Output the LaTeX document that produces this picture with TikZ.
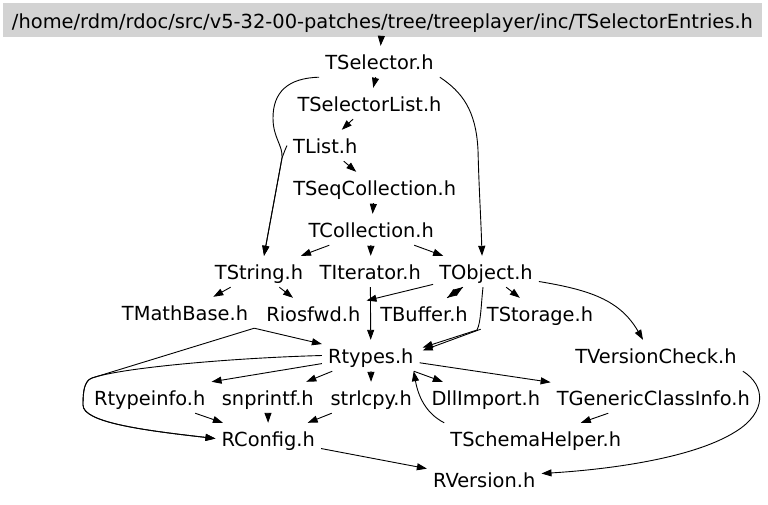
\documentclass[tikz,border=0pt]{standalone}
\usepackage{graphicx}
\usepackage{fontspec}
\setmainfont{DejaVu Sans}
\usetikzlibrary{arrows.meta}
\definecolor{rootgray}{HTML}{D3D3D3}
\begin{document}
\begin{tikzpicture}[x=1pt,y=-1pt,
  rootbox/.style={fill=rootgray,draw=none,minimum width=759pt,minimum height=34pt,inner sep=0pt,
    text height=20pt,text depth=4pt,font=\fontsize{19.4}{21}\selectfont},
  fnode/.style={anchor=base,inner xsep=6pt,inner ysep=4pt,text height=19pt,text depth=4pt,
    font=\fontsize{19.4}{21}\selectfont},
  edge/.style={draw=black,line width=0.9pt,-{Triangle[length=10pt,width=7pt]}}]
\useasboundingbox (0,0) rectangle (768,504);
\fill[white] (0,0) rectangle (768,504);

\node[rootbox] (root) at (382.5,20) {\resizebox{741pt}{\height}{/home/rdm/rdoc/src/v5-32-00-patches/tree/treeplayer/inc/TSelectorEntries.h}};

\node[fnode] (sel) at (379.5,69) {TSelector.h};
\node[fnode] (sellist) at (369.5,111) {TSelectorList.h};
\node[fnode] (tlist) at (325.3,153) {TList.h};
\node[fnode] (seq) at (374.7,195) {TSeqCollection.h};
\node[fnode] (coll) at (371.3,237) {TCollection.h};
\node[fnode] (str) at (259,279) {TString.h};
\node[fnode] (iter) at (370.3,279) {TIterator.h};
\node[fnode] (obj) at (486,279) {TObject.h};
\node[fnode] (mb) at (185,320) {TMathBase.h};
\node[fnode] (rios) at (313.3,321) {Riosfwd.h};
\node[fnode] (tbuf) at (424,321) {TBuffer.h};
\node[fnode] (tsto) at (540,321) {TStorage.h};
\node[fnode] (rtypes) at (370.8,363) {Rtypes.h};
\node[fnode] (tvc) at (656,363) {TVersionCheck.h};
\node[fnode] (rtinfo) at (149.7,405) {Rtypeinfo.h};
\node[fnode] (snp) at (267.8,405) {snprintf.h};
\node[fnode] (strl) at (371.2,405) {strlcpy.h};
\node[fnode] (dll) at (485.8,405) {DllImport.h};
\node[fnode] (tgci) at (653.3,405) {TGenericClassInfo.h};
\node[fnode] (rcfg) at (268.3,446) {RConfig.h};
\node[fnode] (tsh) at (535.8,446) {TSchemaHelper.h};
\node[fnode] (rv) at (484.2,487) {RVersion.h};

\draw[edge] (root) -- (sel);
\draw[edge] (sel) -- (sellist);
\draw[edge] (sel.south west) .. controls (288,78) and (273,92) .. (273,118) .. controls (273,138) and (283,145) .. (282,158) -- ([xshift=5pt]str.north);
\draw[edge] (tlist.west) .. controls (285,150) .. (282,158) -- ([xshift=5pt]str.north);
\draw[edge] (sel.south east) .. controls (462,92) and (476,110) .. (478,150) .. controls (479,190) and (481,220) .. ([xshift=-4pt]obj.north);
\draw[edge] (sellist) -- (tlist);
\draw[edge] (tlist) -- (seq);
\draw[edge] (seq) -- (coll);
\draw[edge] (coll) -- (str);
\draw[edge] (coll) -- (iter);
\draw[edge] (coll) -- (obj);
\draw[edge] (str) -- (mb);
\draw[edge] (str) -- (rios);
\draw[edge] (obj) -- (rios);
\draw[edge] (iter) -- (rtypes);
\draw[edge] (obj) -- (tbuf);
\draw[edge] (tbuf) -- (obj);
\draw[edge] (obj) -- (tsto);
\draw[edge] ([xshift=-3pt]obj.south) .. controls (481,305) and (481,322) .. (477,330) -- ([shift={(3pt,8pt)}]rtypes.east);
\draw[edge] (tsto.south west) -- ([shift={(3pt,5pt)}]rtypes.east);
\draw[edge] ([yshift=-10pt]obj.east) .. controls (590,290) and (620,300) .. ([xshift=-13pt]tvc.north);
\draw[edge] (mb.south east) -- (rtypes);
\draw[edge] (mb.south east) -- (92,378) .. controls (84,381) and (83,392) .. (83,405) .. controls (83,422) and (140,430) .. (rcfg.west);
\draw[edge] (rtypes.west) .. controls (230,358) and (120,368) .. (92,378) .. controls (84,381) and (83,392) .. (83,405) .. controls (83,422) and (140,430) .. (rcfg.west);
\draw[edge] (rtypes) -- (rtinfo.north east);
\draw[edge] (rtypes) -- (snp);
\draw[edge] (rtypes) -- (strl);
\draw[edge] (rtypes) -- (dll);
\draw[edge] (rtypes) -- (tgci);
\draw[edge] (rtinfo) -- (rcfg);
\draw[edge] (snp) -- (rcfg);
\draw[edge] (strl) -- (rcfg);
\draw[edge] (rcfg) -- (rv);
\draw[edge] (tsh.north west) .. controls (425,413) and (418,395) .. ([xshift=-6pt]rtypes.south east);
\draw[edge] (tgci) -- (tsh);
\draw[edge] (tvc.south east) .. controls (765,385) and (768,412) .. (735,432) .. controls (690,460) and (600,470) .. ([yshift=6pt]rv.east);
\end{tikzpicture}
\end{document}
